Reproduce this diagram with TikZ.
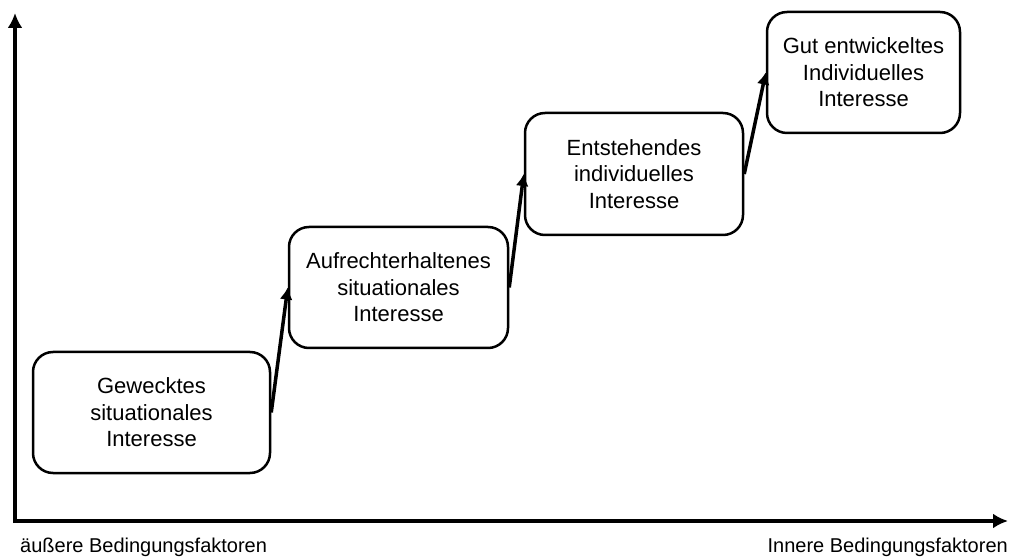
\documentclass[tikz,border=0pt]{standalone}
\usepackage[rgb]{xcolor}
\usepackage{fontspec}
\setmainfont{Liberation Sans}
\usepackage{tikz}
\usetikzlibrary{arrows.meta}

\tikzset{
  stufe/.style={draw, line width=2.5pt, rounded corners=20pt, align=center,
    inner sep=0pt, minimum height=121pt,
    font=\fontsize{22}{26.5}\selectfont},
  achse/.style={line width=4pt, -{Latex[length=15pt,width=15pt]}},
  sprung/.style={line width=3.5pt, -{Latex[length=12pt,width=13pt]}},
  beschriftung/.style={font=\fontsize{20}{24}\selectfont, inner sep=0pt}
}

\begin{document}
\begin{tikzpicture}[x=1pt, y=1pt]

\useasboundingbox (0,0) rectangle (1009,557);

% axes
\coordinate (ursprung) at (15,36);
\coordinate (oben) at (15,544);
\coordinate (rechts) at (1008,36);
\draw[achse] ([yshift=-2pt]ursprung) -- (oben);
\draw[achse] ([xshift=-2pt]ursprung) -- (rechts);

%% the four steps
\path
(151.5,144.5) node[stufe, minimum width=237pt] (geweckt){Gewecktes\\situationales\\Interesse};
\path
(398.5,269.5) node[stufe, minimum width=219pt] (aufrecht){Aufrechterhaltenes\\situationales\\Interesse};
\path
(634,383) node[stufe, minimum width=218pt, minimum height=122pt] (entstehend){Entstehendes\\individuelles\\Interesse};
\path
(863.5,484.5) node[stufe, minimum width=193pt] (gut){Gut entwickeltes\\Individuelles\\Interesse};

\draw[sprung] (geweckt.east) -- (aufrecht.west);
\draw[sprung] (aufrecht.east) -- (entstehend.west);
\draw[sprung] (entstehend.east) -- (gut.west);

% axis labels
\path
(20,10) node[beschriftung, anchor=west] (aussen){äußere Bedingungsfaktoren};
\path
(1008,10) node[beschriftung, anchor=east] (innen){Innere Bedingungsfaktoren};

\end{tikzpicture}
\end{document}
